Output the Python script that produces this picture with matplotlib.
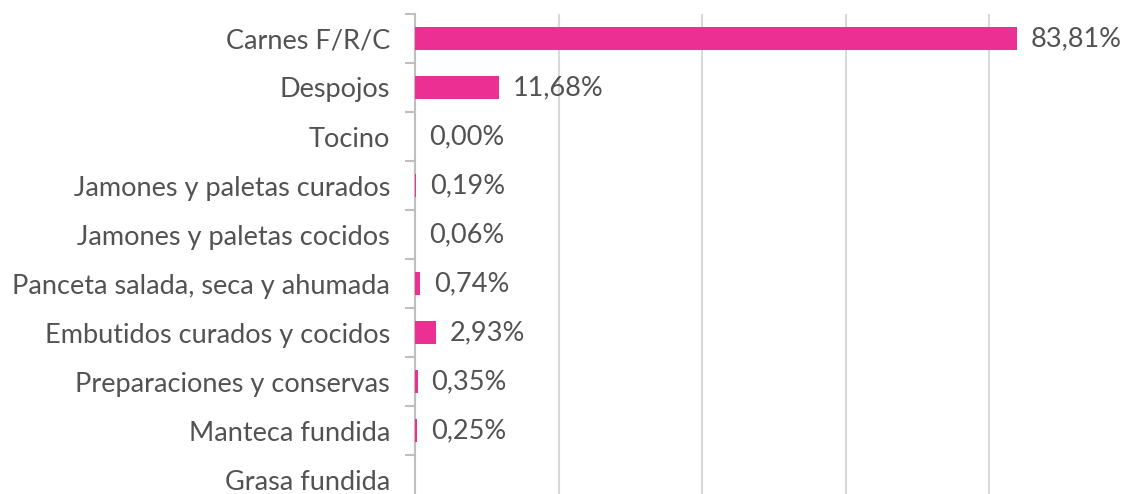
import matplotlib
matplotlib.use("Agg")
import matplotlib.pyplot as plt
import numpy as np

categories = ["Carnes F/R/C", "Despojos", "Tocino", "Jamones y paletas curados",
              "Jamones y paletas cocidos", "Panceta salada, seca y ahumada",
              "Embutidos curados y cocidos", "Preparaciones y conservas",
              "Manteca fundida", "Grasa fundida"]
values = [83.81, 11.68, 0.00, 0.19, 0.06, 0.74, 2.93, 0.35, 0.25, None]

W, H = 1126, 494
fig = plt.figure(figsize=(W/100, H/100), dpi=100)
left, right, top, bottom = 415, 1133, 14, 504
ax = fig.add_axes([left/W, 1-bottom/H, (right-left)/W, (bottom-top)/H])

font = "Lato"
fs = 19.5
txt_color = "#525252"
bar_color = "#EC2F92"

n = len(categories)
y = np.arange(n)
vals = [v if v is not None else 0 for v in values]
ax.barh(y, vals, height=0.46, color=bar_color, linewidth=0, zorder=3)
for yi, v in zip(y, values):
    if v is None:
        continue
    ax.annotate(f"{v:.2f}%".replace(".", ","), xy=(v, yi), xytext=(14*0.72, 0),
                textcoords="offset points", va="center", ha="left",
                fontsize=fs, color=txt_color, family=font, zorder=4)

ax.set_xlim(0, 100)
ax.set_ylim(n-0.5, -0.5)
ax.set_xticks([0, 20, 40, 60, 80, 100])
ax.tick_params(axis="x", which="both", length=0, labelbottom=False)
ax.grid(axis="x", color="#D9D9D9", linewidth=1.5, zorder=0)
ax.set_yticks(y)
ax.set_yticklabels(categories, fontsize=fs, color=txt_color, family=font)
ax.set_yticks(np.arange(-0.5, n, 1), minor=True)
ax.tick_params(axis="y", which="major", length=0, pad=18)
ax.tick_params(axis="y", which="minor", length=7, color="#BFBFBF", width=1.5)
for s in ["top", "right", "bottom"]:
    ax.spines[s].set_visible(False)
ax.spines["left"].set_color("#BFBFBF")
ax.spines["left"].set_linewidth(1.5)
ax.spines["left"].set_zorder(2)

fig.savefig("out.png", dpi=100)
